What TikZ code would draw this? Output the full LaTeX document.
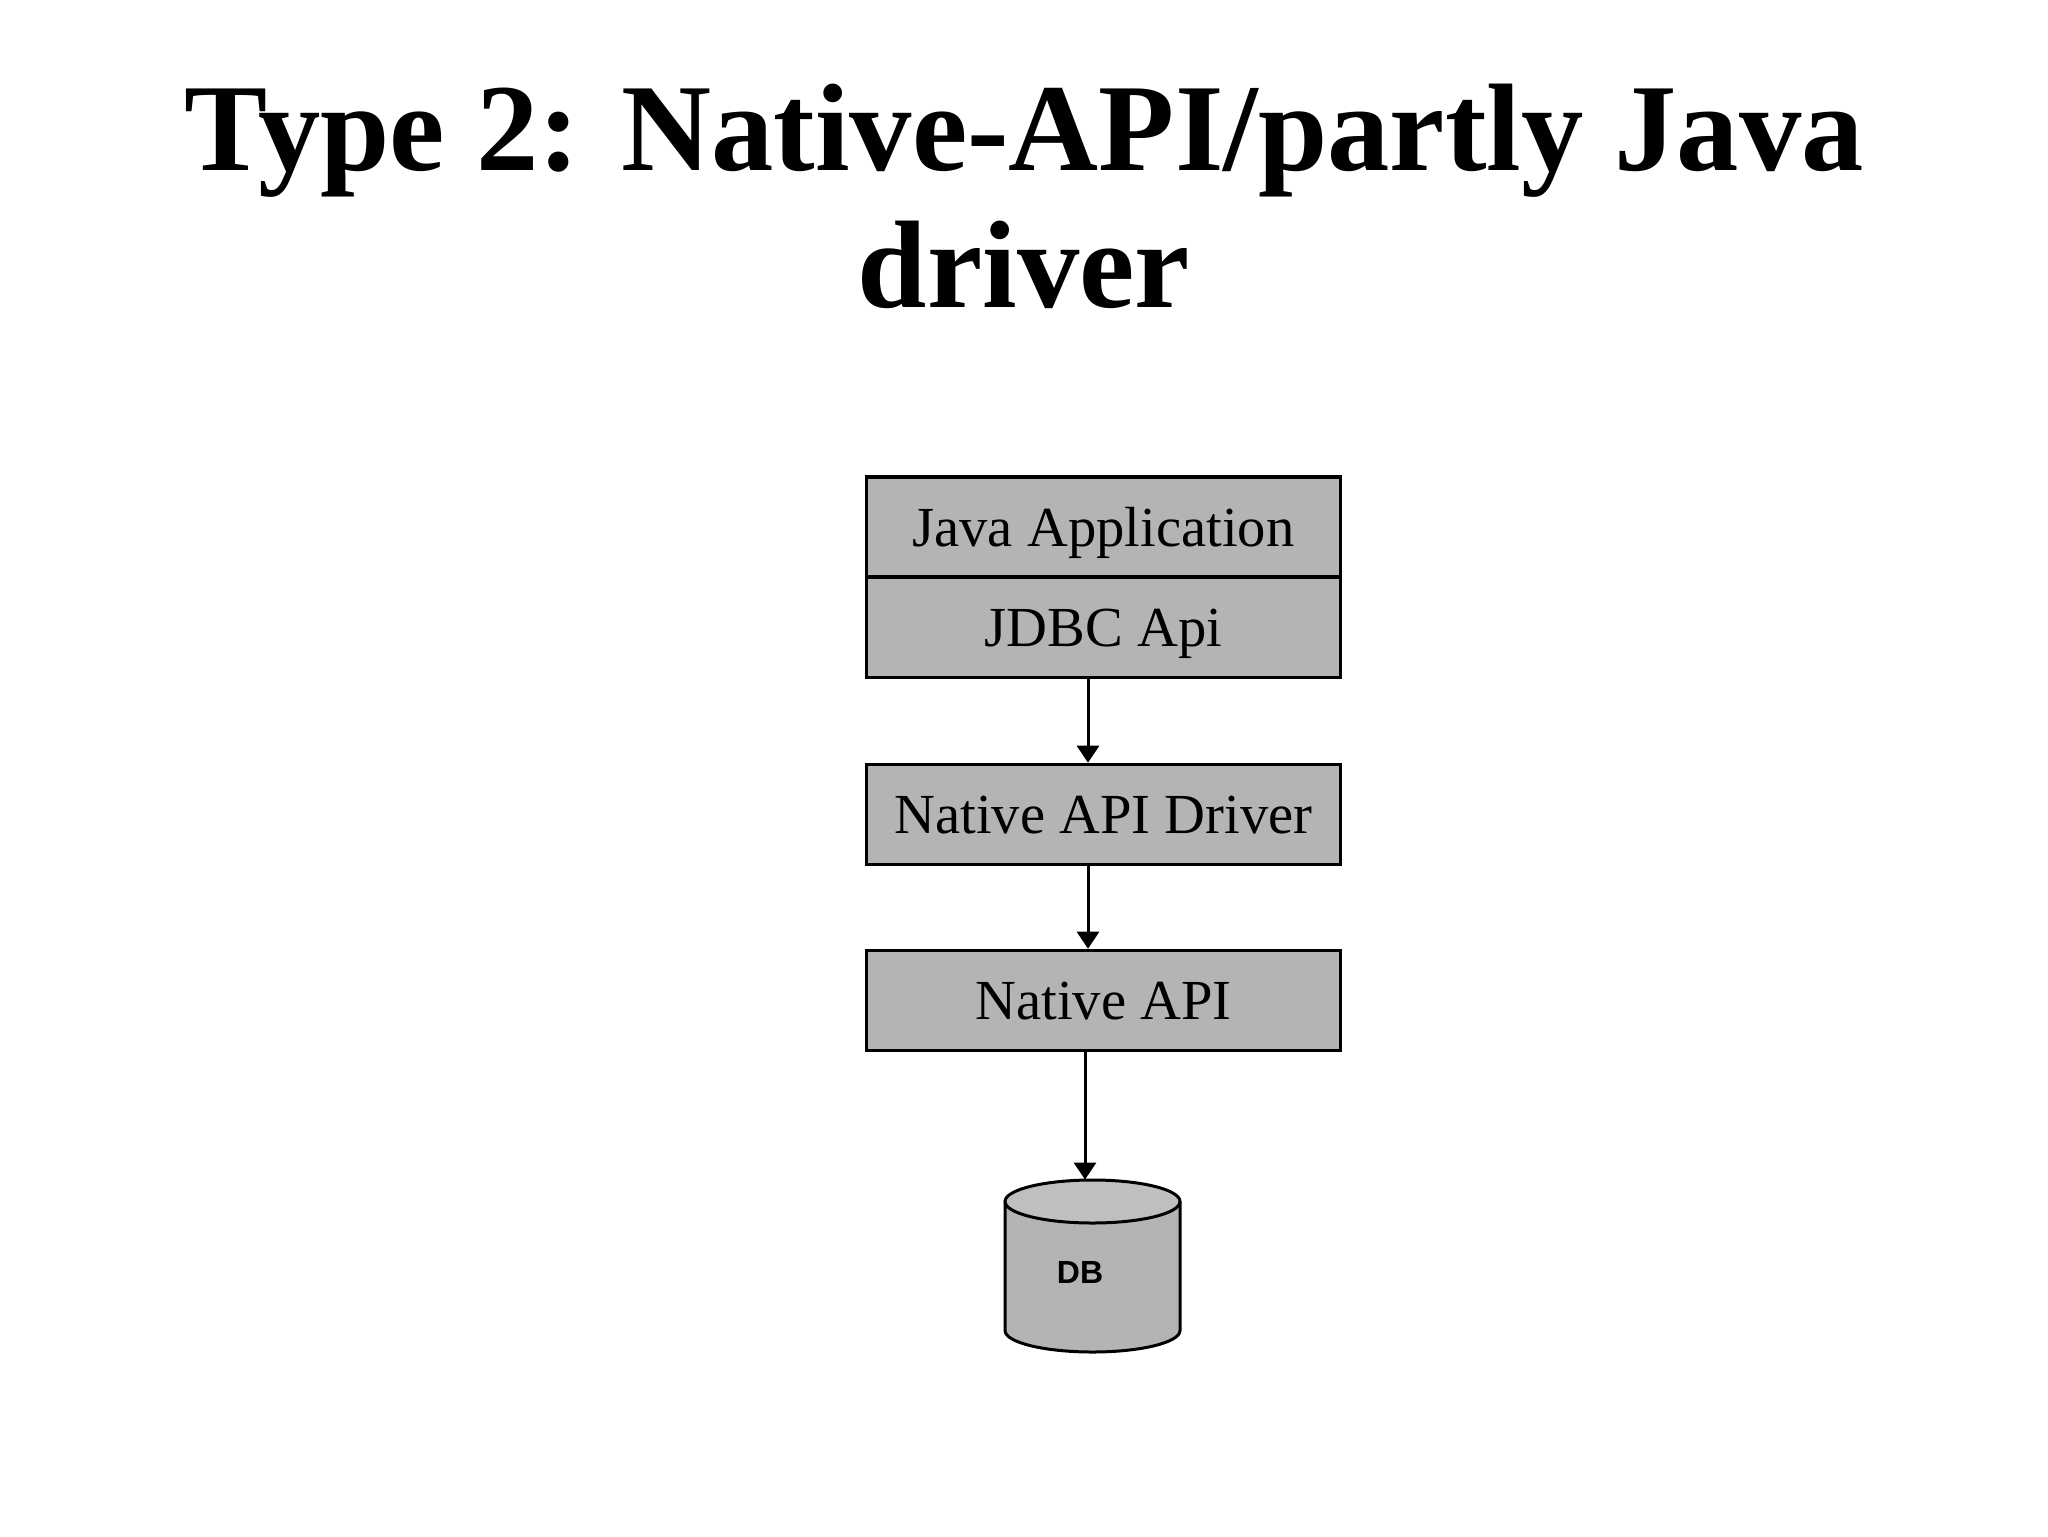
\documentclass[tikz,border=0pt]{standalone}
\usepackage{fontspec}
\setmainfont{Liberation Serif}
\newfontfamily\dbfont{Liberation Sans}
\usetikzlibrary{arrows.meta}
\begin{document}
\begin{tikzpicture}[x=0.5pt,y=-0.5pt,
  layer/.style={draw=black,line width=1.8pt,fill=boxgray,minimum width=237pt,minimum height=50pt,inner sep=0pt,text height=19pt,text depth=0pt,font=\fontsize{28.3}{30}\selectfont},
  link/.style={line width=1.5pt,-{Triangle[width=11pt,length=8.5pt]}},
  titletext/.style={font=\fontsize{62.3}{70}\selectfont\bfseries,inner sep=0pt,anchor=base}]
\definecolor{boxgray}{RGB}{180,180,180}
\useasboundingbox (0,0) rectangle (2048,1536);
\node[titletext] (t1) at (1024,170) {Type 2: Native-API/partly Java};
\node[titletext] (t2) at (1024,307) {driver};
\node[layer] (app) at (1103.5,527) {Java Application};
\node[layer] (jdbc) at (1103.5,627.5) {JDBC Api};
\node[layer] (drv) at (1103.5,814.5) {Native API Driver};
\node[layer] (napi) at (1103.5,1000.5) {Native API};
\coordinate (ax) at (1088,0);
\coordinate (bx) at (1085,0);
% database cylinder
\node[minimum width=87.5pt,minimum height=86pt,inner sep=0pt] (db) at (1092.5,1266) {};
\fill[boxgray] (1005,1201.5) -- (1005,1330.5) arc[start angle=180,end angle=0,x radius=87.5,y radius=21.5] -- (1180,1201.5) arc[start angle=0,end angle=-180,x radius=87.5,y radius=21.5] -- cycle;
\fill[boxgray!85!white] (1092.5,1201.5) ellipse[x radius=87.5,y radius=21.5];
\draw[line width=1.5pt] (1005,1201.5) -- (1005,1330.5) arc[start angle=180,end angle=0,x radius=87.5,y radius=21.5] -- (1180,1201.5);
\draw[line width=1.5pt] (1092.5,1201.5) ellipse[x radius=87.5,y radius=21.5];
\node[font=\dbfont\bfseries\fontsize{16}{18}\selectfont,inner sep=0pt] (dbl) at (1080,1272) {DB};
% connectors
\draw[link] (jdbc.south -| ax) -- (drv.north -| ax);
\draw[link] (drv.south -| ax) -- (napi.north -| ax);
\draw[link] (napi.south -| bx) -- (db.north -| bx);
\end{tikzpicture}
\end{document}
